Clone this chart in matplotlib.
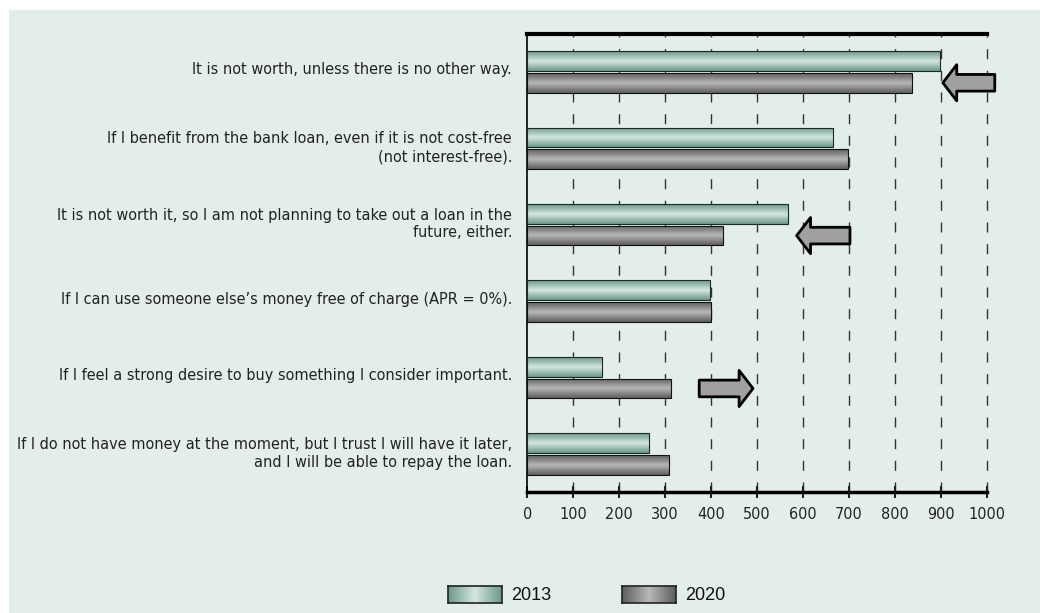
import numpy as np
import matplotlib
matplotlib.use('Agg')
import matplotlib.pyplot as plt
from matplotlib import font_manager
from matplotlib.font_manager import FontProperties
from matplotlib.patches import Rectangle
from matplotlib.colors import LinearSegmentedColormap

# look for a narrow face, the reference uses a condensed sans
cands = []
for f in font_manager.fontManager.ttflist:
    low = f.fname.lower()
    if 'narrow' in low or 'condensed' in low:
        if 'bold' in low or 'italic' in low or 'oblique' in low or 'light' in low:
            continue
        cands.append(f.fname)
order = ['liberationsansnarrow', 'dejavusanscondensed', 'robotocondensed']
cands.sort(key=lambda p: next((i for i, k in enumerate(order) if k in p.lower().replace('-', '').replace(' ', '')), 99))
narrow_file = cands[0] if cands else None
key = narrow_file.lower().replace('-', '') if narrow_file else ''
if 'liberationsansnarrow' in key:
    lab_size = 12.6
elif 'dejavusanscondensed' in key:
    lab_size = 11.6
else:
    lab_size = 13.0


def nfont(size):
    if narrow_file:
        return FontProperties(fname=narrow_file, size=size)
    return FontProperties(family='DejaVu Sans', stretch='condensed', size=size)


categories = [
    "It is not worth, unless there is no other way.",
    "If I benefit from the bank loan, even if it is not cost-free\n(not interest-free).",
    "It is not worth it, so I am not planning to take out a loan in the\nfuture, either.",
    "If I can use someone else\u2019s money free of charge (APR = 0%).",
    "If I feel a strong desire to buy something I consider important.",
    "If I do not have money at the moment, but I trust I will have it later,\nand I will be able to repay the loan.",
]
years = ['2013', '2020']
values_2013 = [898, 666, 567, 398, 162, 265]
values_2020 = [836, 697, 425, 399, 312, 308]
xticks = [0, 100, 200, 300, 400, 500, 600, 700, 800, 900, 1000]

# arrows: (category index, tail, tip) drawn on the 2020 bar
arrows = [(0, 1017, 904), (2, 702, 586), (4, 374, 491)]

cmap_2013 = LinearSegmentedColormap.from_list('g13', ['#6a9a89', '#d6e7e0', '#6a9a89'])
cmap_2020 = LinearSegmentedColormap.from_list('g20', ['#5e5e5e', '#b8b8b8', '#5e5e5e'])

fig = plt.figure(figsize=(10.4, 6.13), dpi=100)
fig.patches.append(Rectangle((9 / 1040, 0), 1, 1 - 10 / 613, transform=fig.transFigure,
                             facecolor='#e3ede9', edgecolor='none', zorder=-10))
ax = fig.add_axes([0.507, 0.197, 0.442, 0.748])
ax.set_facecolor('none')

y = np.arange(len(categories))
h = 0.258
off = 0.142
bars13 = ax.barh(y - off, values_2013, height=h, color='none', edgecolor='#1a2a24', lw=0.8, zorder=3)
bars20 = ax.barh(y + off, values_2020, height=h, color='none', edgecolor='#111111', lw=0.8, zorder=3)

grad = np.linspace(0, 1, 64).reshape(-1, 1)
for bars, cm in [(bars13, cmap_2013), (bars20, cmap_2020)]:
    for b in bars:
        x0, y0, w, hh = b.get_x(), b.get_y(), b.get_width(), b.get_height()
        im = ax.imshow(grad, cmap=cm, aspect='auto', extent=[x0, x0 + w, y0 + hh, y0],
                       zorder=2, interpolation='bicubic')
        im.set_clip_path(b)

ax.set_xlim(0, 1000)
ax.set_ylim(5.5, -0.5)

ax.set_xticks(xticks)
ax.set_xticklabels([str(t) for t in xticks])
for lab in ax.get_xticklabels():
    lab.set_fontproperties(nfont(lab_size))
# labels sit a little above the group centre in the original
ax.set_yticks(y - 0.045)
ax.set_yticklabels(categories, linespacing=1.22)
for lab in ax.get_yticklabels():
    lab.set_fontproperties(nfont(lab_size))
ax.tick_params(axis='y', length=0, pad=11, colors='#222222')
ax.tick_params(axis='x', direction='inout', length=9, width=1.5, pad=6, colors='#222222')

for t in xticks[1:]:
    ax.axvline(t, color='#333333', lw=1.0, ls=(0, (7.2, 8.4)), zorder=1, clip_on=False)

ax.spines['right'].set_visible(False)
ax.spines['top'].set_linewidth(3)
ax.spines['bottom'].set_linewidth(2.5)
ax.spines['left'].set_linewidth(1.2)

for idx, tail, tip in arrows:
    ax.annotate('', xy=(tip, idx + off), xytext=(tail, idx + off), xycoords='data',
                annotation_clip=False,
                arrowprops=dict(arrowstyle='simple,head_length=10,head_width=26,tail_width=12',
                                mutation_scale=1, fc='#a0a0a0', ec='black', lw=2,
                                shrinkA=0, shrinkB=0), zorder=5)

# legend with horizontal gradient patches
lg = np.linspace(0, 1, 64).reshape(1, -1)
for i, (yr, cm) in enumerate(zip(years, [cmap_2013, cmap_2020])):
    lax = fig.add_axes([(448 + i * 174) / 1040, 1 - 603 / 613, 54 / 1040, 17 / 613])
    lax.imshow(lg, cmap=cm, aspect='auto', interpolation='bicubic')
    lax.set_xticks([])
    lax.set_yticks([])
    for s in lax.spines.values():
        s.set_color('#222222')
        s.set_linewidth(1.2)
    fig.text((511 + i * 174) / 1040, 1 - 595 / 613, yr, fontsize=13, va='center', ha='left',
             family='Liberation Sans', color='#111111')

fig.savefig('out.png', dpi=100)
